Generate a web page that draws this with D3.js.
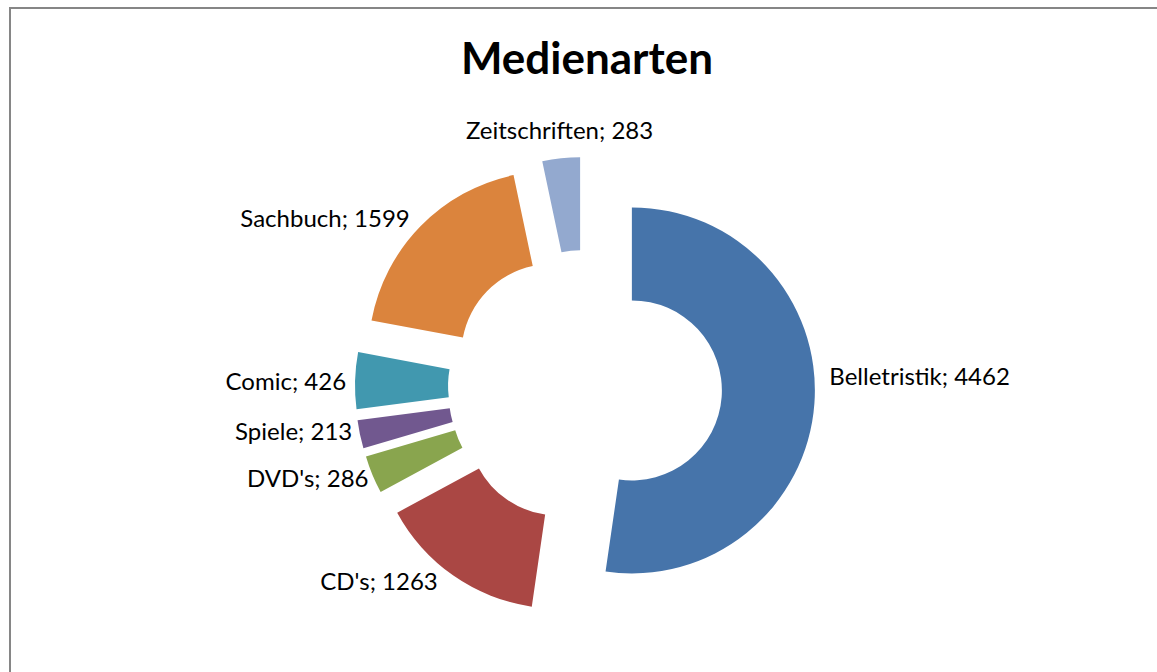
<!DOCTYPE html>
<html lang="de">
<head>
    <meta charset="utf-8">
    <title>Medienarten</title>
    <script src="https://d3js.org/d3.v7.min.js"></script>
    <style>
        body { margin: 0; background: #fff; }
        text { font-family: Lato, "Open Sans", sans-serif; fill: #000; }
        .title { font-size: 44px; font-weight: bold; text-anchor: middle; }
        .label { font-size: 24px; }
    </style>
</head>
<body>
<script>
    const categories = ["Belletristik", "CD's", "DVD's", "Spiele", "Comic", "Sachbuch", "Zeitschriften"];
    const values = [4462, 1263, 286, 213, 426, 1599, 283];
    const colors = ["#4674AA", "#AA4744", "#89A54E", "#71588F", "#4198AF", "#DB843D", "#93A9CF"];

    const width = 1157, height = 672;
    const cx = 585, cy = 387;
    const outer = 183, inner = 90, explode = 47, labelR = 198;
    // hand-placed label tweaks (dx, dy), like the moved labels in the original
    const labelShift = [[0, -28], [-7, -6], [10, -2], [7, -6], [6, 1], [0, 3], [0, -1]];

    const svg = d3.select("body").append("svg")
            .attr("width", width).attr("height", height);

    svg.append("rect")
            .attr("x", 10).attr("y", 8)
            .attr("width", width).attr("height", height)
            .attr("fill", "#fff").attr("stroke", "#868686").attr("stroke-width", 2);

    svg.append("text").attr("class", "title")
            .attr("x", 587).attr("y", 74)
            .text("Medienarten");

    const data = categories.map((c, i) => ({name: c, value: values[i], color: colors[i]}));
    const pie = d3.pie().value(d => d.value).sort(null);
    const arc = d3.arc().innerRadius(inner).outerRadius(outer);
    const mid = d => (d.startAngle + d.endAngle) / 2;

    const slices = svg.append("g").attr("transform", `translate(${cx},${cy})`)
            .selectAll("g").data(pie(data)).join("g")
            .attr("transform", d => `translate(${explode * Math.sin(mid(d))},${-explode * Math.cos(mid(d))})`);

    slices.append("path")
            .attr("d", arc)
            .attr("fill", d => d.data.color);

    slices.append("text").attr("class", "label")
            .attr("x", (d, i) => labelR * Math.sin(mid(d)) + labelShift[i][0])
            .attr("y", (d, i) => {
                const a = mid(d);
                const y = -labelR * Math.cos(a);
                return (Math.abs(Math.sin(a)) < 0.3 ? y - 12 : y) + labelShift[i][1];
            })
            .attr("dy", "0.35em")
            .attr("text-anchor", d => {
                const s = Math.sin(mid(d));
                return Math.abs(s) < 0.3 ? "middle" : (s > 0 ? "start" : "end");
            })
            .text(d => `${d.data.name}; ${d.data.value}`);
</script>
</body>
</html>
